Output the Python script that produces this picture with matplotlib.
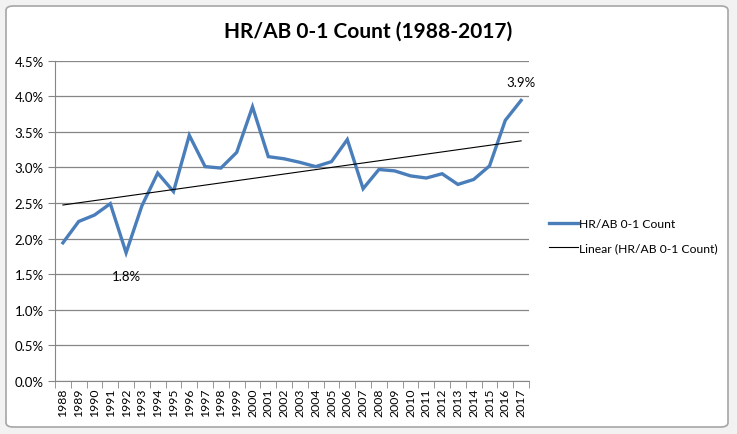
import numpy as np
import matplotlib.pyplot as plt
from matplotlib.patches import FancyBboxPatch
from matplotlib.ticker import PercentFormatter, FixedLocator

years = list(range(1988, 2018))
hr_ab = [1.94, 2.24, 2.33, 2.49, 1.80, 2.46, 2.92, 2.66, 3.45, 3.01,
         2.99, 3.21, 3.85, 3.15, 3.12, 3.07, 3.01, 3.08, 3.39, 2.70,
         2.97, 2.95, 2.88, 2.85, 2.91, 2.76, 2.83, 3.02, 3.66, 3.94]
labels_at = {1992: "1.8%", 2017: "3.9%"}

plt.rcParams["font.family"] = ["Lato", "DejaVu Sans"]

W, H = 737, 435
fig = plt.figure(figsize=(W / 100, H / 100), dpi=100)
fig.patch.set_facecolor("#f2f2f2")

# chart area box, behind the axes
box = FancyBboxPatch((6 / W, 7 / H), 722 / W, 421 / H,
                     boxstyle="round,pad=0,rounding_size=0.01",
                     transform=fig.transFigure, facecolor="white",
                     edgecolor="#a6a6a6", linewidth=1.2, zorder=-10)
fig.patches.append(box)

ax = fig.add_axes([55 / W, (H - 382) / H, 474 / W, 320.5 / H])
ax.set_facecolor("none")

x = np.arange(len(years))
ax.plot(x, hr_ab, color="#4a7ebb", linewidth=2.4, solid_joinstyle="miter",
        label="HR/AB 0-1 Count")

# linear trendline
k, b = np.polyfit(x, hr_ab, 1)
ax.plot(x, k * x + b, color="black", linewidth=0.8,
        label="Linear (HR/AB 0-1 Count)")

for yr, txt in labels_at.items():
    i = years.index(yr)
    off = -17 if hr_ab[i] < 2 else 13
    ax.annotate(txt, (i, hr_ab[i]), xytext=(0, off), textcoords="offset points",
                ha="center", va="center", fontsize=9.5)

ax.set_xlim(-0.5, len(years) - 0.5)
ax.set_ylim(0, 4.5)
ax.set_yticks(np.arange(0, 4.51, 0.5))
ax.yaxis.set_major_formatter(PercentFormatter(decimals=1))
ax.grid(axis="y", color="#868686", linewidth=0.9)
ax.set_axisbelow(True)

ax.set_xticks(x)
ax.set_xticklabels([str(y) for y in years], rotation=90, fontsize=8.8)
ax.xaxis.set_minor_locator(FixedLocator(np.arange(-0.5, len(years), 1)))
ax.tick_params(axis="x", which="major", length=0, pad=5)
ax.tick_params(axis="x", which="minor", length=5, color="#868686")
ax.tick_params(axis="y", length=5, color="#868686", labelsize=9.5, pad=3)

for s in ["top", "right"]:
    ax.spines[s].set_visible(False)
for s in ["left", "bottom"]:
    ax.spines[s].set_color("#868686")

fig.text(368 / W, 1 - 32 / H, "HR/AB 0-1 Count (1988-2017)", ha="center",
         va="center", fontsize=15, fontweight="bold")

fig.legend(loc="center left", bbox_to_anchor=(538 / W, 1 - 237 / H),
           frameon=False, fontsize=8.7, handlelength=2.4, labelspacing=1.1,
           handletextpad=0.1)

fig.savefig("out.png", dpi=100, facecolor=fig.get_facecolor())
